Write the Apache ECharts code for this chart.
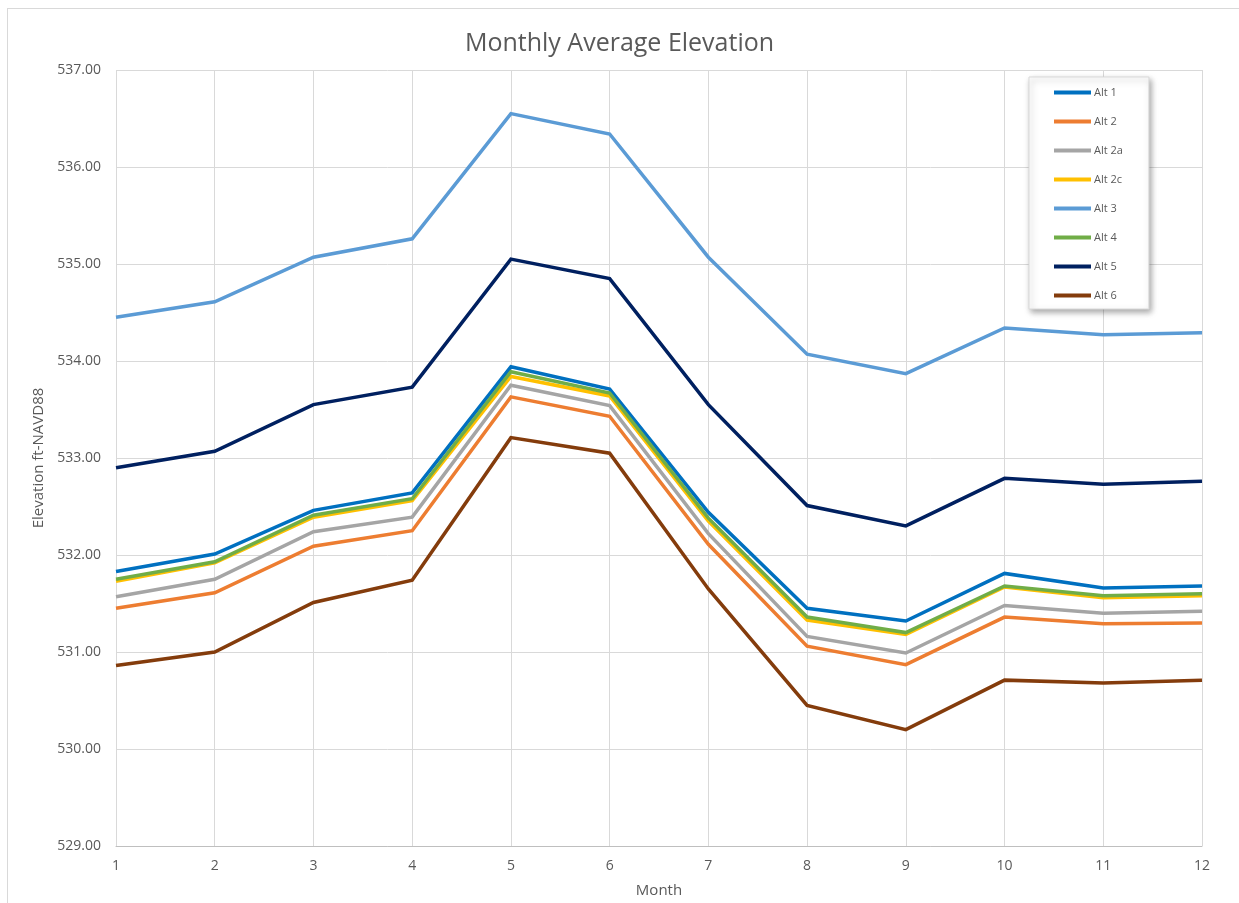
<!DOCTYPE html>
<html>
<head>
<meta charset="utf-8">
<title>Monthly Average Elevation</title>
<script src="https://cdn.jsdelivr.net/npm/echarts@6/dist/echarts.min.js"></script>
<style>
  html, body { margin: 0; padding: 0; background: #ffffff; }
  #frame { position: absolute; left: 7px; top: 8px; width: 1240px; height: 900px;
           border-left: 1px solid #d9d9d9; border-top: 1px solid #d9d9d9; box-sizing: border-box; }
  #chart { position: absolute; left: 0; top: 0; width: 1239px; height: 903px; }
</style>
</head>
<body>
<div id="frame"></div>
<div id="chart"></div>
<script>
// Months on the horizontal axis
const months = ['1', '2', '3', '4', '5', '6', '7', '8', '9', '10', '11', '12'];

// Monthly average elevation (ft NAVD88) for each alternative
const alt1  = [531.83, 532.01, 532.46, 532.64, 533.94, 533.71, 532.44, 531.45, 531.32, 531.81, 531.66, 531.68];
const alt2  = [531.45, 531.61, 532.09, 532.25, 533.63, 533.43, 532.11, 531.06, 530.87, 531.36, 531.29, 531.30];
const alt2a = [531.57, 531.75, 532.24, 532.39, 533.75, 533.54, 532.22, 531.16, 530.99, 531.48, 531.40, 531.42];
const alt2c = [531.73, 531.92, 532.39, 532.56, 533.84, 533.64, 532.35, 531.33, 531.18, 531.67, 531.56, 531.58];
const alt3  = [534.45, 534.61, 535.07, 535.26, 536.55, 536.34, 535.07, 534.07, 533.87, 534.34, 534.27, 534.29];
const alt4  = [531.75, 531.93, 532.41, 532.58, 533.89, 533.67, 532.38, 531.36, 531.20, 531.68, 531.58, 531.60];
const alt5  = [532.90, 533.07, 533.55, 533.73, 535.05, 534.85, 533.55, 532.51, 532.30, 532.79, 532.73, 532.76];
const alt6  = [530.86, 531.00, 531.51, 531.74, 533.21, 533.05, 531.65, 530.45, 530.20, 530.71, 530.68, 530.71];

const seriesNames = ['Alt 1', 'Alt 2', 'Alt 2a', 'Alt 2c', 'Alt 3', 'Alt 4', 'Alt 5', 'Alt 6'];
const seriesData  = [alt1, alt2, alt2a, alt2c, alt3, alt4, alt5, alt6];
const seriesColors = ['#0070C0', '#ED7D31', '#A5A5A5', '#FFC000', '#5B9BD5', '#70AD47', '#002060', '#843C0C'];

const FONT = 'Open Sans';
const TEXT = '#595959';

const chart = echarts.init(document.getElementById('chart'), null, { renderer: 'canvas' });

chart.setOption({
  animation: false,
  backgroundColor: 'transparent',
  textStyle: { fontFamily: FONT },
  title: {
    text: 'Monthly Average Elevation',
    left: 'center',
    top: 26,
    textStyle: { fontFamily: FONT, fontSize: 25, fontWeight: 'normal', color: TEXT }
  },
  legend: {
    orient: 'vertical',
    left: 1029,
    top: 77,
    padding: [10, 26, 8, 25],
    itemGap: 18,
    itemWidth: 37,
    itemHeight: 4,
    icon: 'rect',
    backgroundColor: '#ffffff',
    borderColor: '#d9d9d9',
    borderWidth: 1,
    shadowBlur: 6,
    shadowColor: 'rgba(0,0,0,0.35)',
    shadowOffsetX: 2,
    shadowOffsetY: 3,
    textStyle: { fontFamily: FONT, fontSize: 11, color: TEXT, padding: [0, 0, 0, -2] },
    data: seriesNames
  },
  grid: { left: 116, right: 37, top: 70, bottom: 47, containLabel: false },
  xAxis: {
    type: 'category',
    data: months,
    boundaryGap: false,
    name: 'Month',
    nameLocation: 'middle',
    nameGap: 37,
    nameTextStyle: { fontFamily: FONT, fontSize: 15, color: TEXT },
    axisLine: { show: true, lineStyle: { color: '#bfbfbf', width: 1 } },
    axisTick: { show: false },
    axisLabel: { fontFamily: FONT, fontSize: 14, color: TEXT, margin: 13 },
    splitLine: { show: true, lineStyle: { color: '#d9d9d9', width: 1 } }
  },
  yAxis: {
    type: 'value',
    min: 529,
    max: 537,
    interval: 1,
    name: 'Elevation ft-NAVD88',
    nameLocation: 'middle',
    nameGap: 68,
    nameTextStyle: { fontFamily: FONT, fontSize: 15, color: TEXT },
    axisLine: { show: false },
    axisTick: { show: false },
    axisLabel: {
      fontFamily: FONT, fontSize: 14, color: TEXT, margin: 15,
      formatter: v => v.toFixed(2)
    },
    splitLine: { show: true, lineStyle: { color: '#d9d9d9', width: 1 } }
  },
  series: seriesNames.map((name, i) => ({
    name: name,
    type: 'line',
    data: seriesData[i],
    showSymbol: false,
    symbol: 'none',
    color: seriesColors[i],
    lineStyle: { color: seriesColors[i], width: 3.5, join: 'miter' },
    emphasis: { disabled: true }
  }))
});
</script>
</body>
</html>
